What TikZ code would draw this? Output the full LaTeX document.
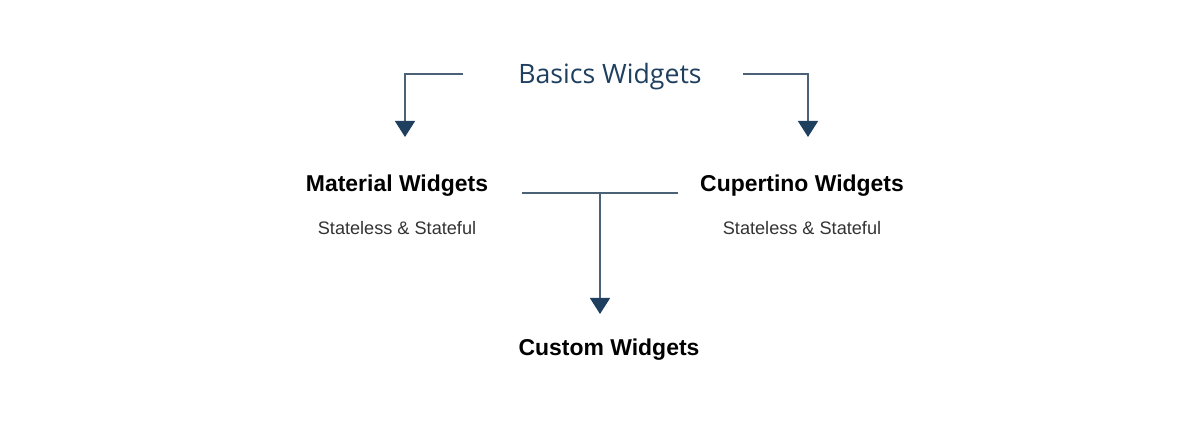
\documentclass[tikz,border=0pt]{standalone}
\usepackage{fontspec}
\setmainfont{Liberation Sans}
\newfontfamily\titlefont{Open Sans}
\usetikzlibrary{arrows.meta}
\definecolor{navy}{HTML}{1F3F5F}
\definecolor{linec}{HTML}{4A6176}
\definecolor{subc}{HTML}{333333}
\tikzset{
  head/.style={font=\bfseries\fontsize{17.2}{20}\selectfont, text=black, inner sep=0pt},
  sub/.style={font=\fontsize{13.6}{16}\selectfont, text=subc, inner sep=0pt},
  title/.style={font=\titlefont\fontsize{20}{24}\selectfont, text=navy, inner sep=0pt},
  conn/.style={draw=linec, line width=1.1pt, -{Triangle[width=15pt,length=12pt,color=navy]}},
  plain/.style={draw=linec, line width=1.1pt},
}
\begin{document}
\begin{tikzpicture}[x=0.75pt,y=-0.75pt]
\useasboundingbox (0,0) rectangle (1195,423);
\node[title] (basics) at (610,77) {Basics Widgets};
\node[head] (material) at (397,186) {Material Widgets};
\node[sub] (msub) at (397,228) {Stateless \& Stateful};
\node[head] (cupertino) at (802,186) {Cupertino Widgets};
\node[sub] (csub) at (802,228) {Stateless \& Stateful};
\node[head] (custom) at (609,350) {Custom Widgets};
\coordinate (bl) at (463,74);
\coordinate (br) at (743,74);
\coordinate (mt) at (405,137);
\coordinate (ct) at (808,137);
\coordinate (hl) at (522,193);
\coordinate (hr) at (678,193);
\coordinate (hm) at (600,193);
\coordinate (cut) at (600,314);
\draw[conn] (bl) -| (mt);
\draw[conn] (br) -| (ct);
\draw[plain] (hl) -- (hr);
\draw[conn] (hm) -- (cut);
\end{tikzpicture}
\end{document}
